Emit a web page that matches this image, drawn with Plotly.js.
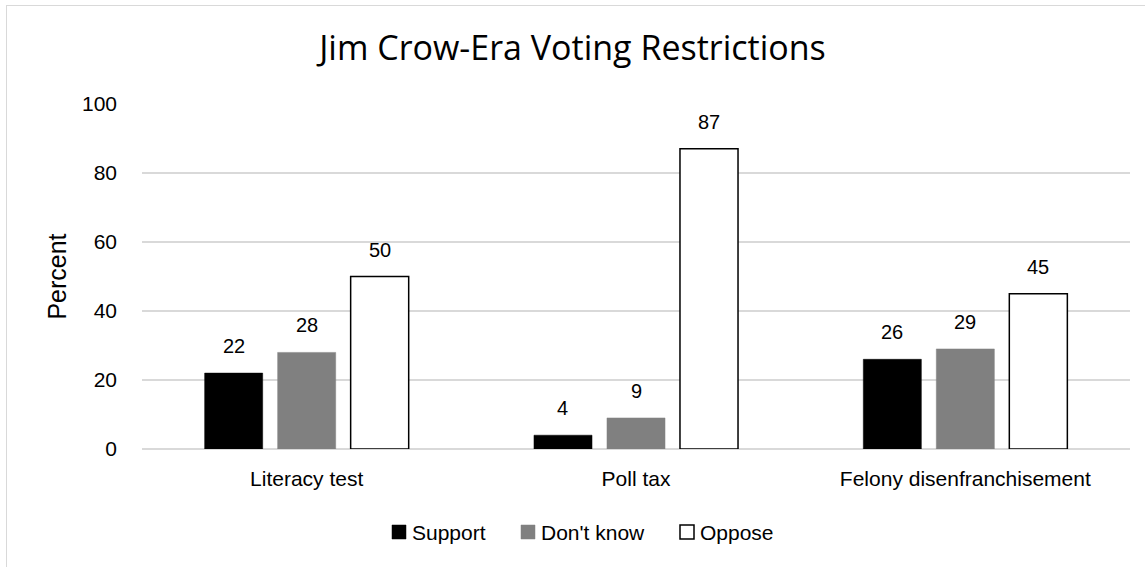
<!DOCTYPE html>
<html>
<head>
<meta charset="utf-8">
<script src="https://cdn.plot.ly/plotly-3.0.1.min.js"></script>
<style>
  html, body { margin: 0; padding: 0; background: #fff; overflow: hidden; }
  #wrap { position: relative; width: 1145px; height: 567px; overflow: hidden; }
  #chart { width: 1145px; height: 567px; }
  #frame { position: absolute; left: 6px; top: 5px; width: 1200px; height: 620px;
           border: 1px solid #d9d9d9; pointer-events: none; }
</style>
</head>
<body>
<div id="wrap">
  <div id="chart"></div>
  <div id="frame"></div>
</div>
<script>
// Survey categories and response shares (percent)
const categories = ['Literacy test', 'Poll tax', 'Felony disenfranchisement'];
const support = [22, 4, 26];
const dontKnow = [28, 9, 29];
const oppose = [50, 87, 45];
const yTicks = [0, 20, 40, 60, 80, 100];

const seriesNames = ['Support', "Don't know", 'Oppose'];
const seriesValues = [support, dontKnow, oppose];
const fills = ['#000000', '#808080', '#ffffff'];
const outlines = ['#000000', '#808080', '#000000'];
const outlineWidths = [0.5, 0.5, 1.5];

const FONT = 'Liberation Sans, Arial, sans-serif';
const tickFont = { family: FONT, size: 21, color: '#000' };
const valueFont = { family: FONT, size: 20, color: '#000' };

// plot area geometry (pixels)
const M = { l: 142, r: 15, t: 104, b: 118 };
const W = 1145, H = 567;
const plotW = W - M.l - M.r, plotH = H - M.t - M.b;
const px2x = p => (p - M.l) / plotW;
const px2y = p => (H - M.b - p) / plotH;

// grouped-bar spacing
const BARGAP = 0.335, GROUPGAP = 0.205;
const slotPx = (plotW / categories.length) * (1 - BARGAP) / seriesNames.length;

const data = seriesNames.map((name, i) => ({
  type: 'bar',
  name: name,
  x: categories,
  y: seriesValues[i],
  marker: { color: fills[i], line: { color: outlines[i], width: outlineWidths[i] } },
  showlegend: false,
  hoverinfo: 'x+y+name'
}));

// value labels above each bar
const annotations = [];
seriesValues.forEach((vals, i) => {
  vals.forEach((v, j) => {
    annotations.push({
      x: categories[j], y: v, xref: 'x', yref: 'y',
      xshift: (i - 1) * slotPx,
      yshift: 14,
      yanchor: 'bottom', xanchor: 'center',
      text: String(v), showarrow: false, font: valueFont
    });
  });
});

// legend row under the axis
const legendSquares = [[392, 406], [521, 535], [680, 694]];
const legendTop = 525, legendBottom = 539;
const shapes = [];
seriesNames.forEach((name, i) => {
  const [a, b] = legendSquares[i];
  shapes.push({
    type: 'rect', xref: 'paper', yref: 'paper',
    x0: px2x(a), x1: px2x(b), y0: px2y(legendBottom), y1: px2y(legendTop),
    fillcolor: fills[i],
    line: { color: outlines[i], width: i === 2 ? 1.5 : 0.5 }
  });
  annotations.push({
    xref: 'paper', yref: 'paper',
    x: px2x(b + 4), y: px2y((legendTop + legendBottom) / 2),
    xanchor: 'left', yanchor: 'middle',
    text: name, showarrow: false, font: tickFont
  });
});

const layout = {
  width: W,
  height: H,
  margin: M,
  paper_bgcolor: '#ffffff',
  plot_bgcolor: '#ffffff',
  barmode: 'group',
  bargap: BARGAP,
  bargroupgap: GROUPGAP,
  showlegend: false,
  title: {
    text: 'Jim Crow-Era Voting Restrictions',
    font: { family: 'Open Sans, Noto Sans, sans-serif', size: 34, color: '#000' },
    x: 0.5, xanchor: 'center',
    y: 1 - 48 / H, yanchor: 'middle'
  },
  xaxis: {
    type: 'category',
    tickfont: tickFont,
    showgrid: false,
    showline: false,
    ticks: '',
    ticklabelstandoff: 15
  },
  yaxis: {
    range: [0, 100],
    tickvals: yTicks,
    ticktext: yTicks.map(String),
    tickfont: tickFont,
    showgrid: true,
    gridcolor: '#d9d9d9',
    gridwidth: 1.3,
    zeroline: true,
    zerolinecolor: '#d9d9d9',
    zerolinewidth: 1.3,
    showline: false,
    ticks: '',
    ticklabelstandoff: 24,
    title: {
      text: 'Percent',
      font: { family: FONT, size: 25, color: '#000' },
      standoff: 8
    }
  },
  shapes: shapes,
  annotations: annotations
};

Plotly.newPlot('chart', data, layout, { displayModeBar: false, staticPlot: true });
</script>
</body>
</html>
